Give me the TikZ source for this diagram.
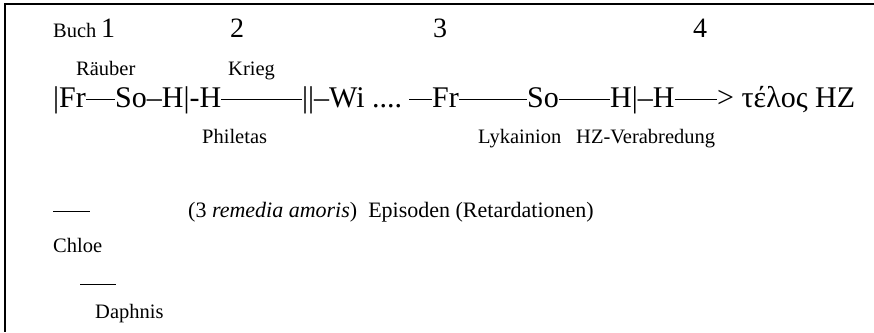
\documentclass[tikz,border=0pt]{standalone}
\usepackage{fontspec}
\setmainfont{Liberation Serif}
\begin{document}
\begin{tikzpicture}[x=1pt,y=-1pt,
  lbl/.style={inner sep=0pt,anchor=base west,font=\fontsize{20.5}{24}\selectfont},
  num/.style={inner sep=0pt,anchor=base west,font=\fontsize{28}{32}\selectfont},
  seq/.style={inner sep=0pt,anchor=base west,font=\fontsize{30}{34}\selectfont},
  dashline/.style={line width=1pt},
  frame/.style={line width=1.6pt}]
\useasboundingbox (0,0) rectangle (874,332);
% frame
\coordinate (tl) at (5,4);
\coordinate (tr) at (874,4);
\coordinate (bl) at (5,332);
\draw[frame] (tr) -- (tl) -- (bl);
% row 1
\node[lbl] (buch) at (53,37) {Buch};
\node[num] (n1) at (101,37) {1};
\node[num] (n2) at (230,37) {2};
\node[num] (n3) at (433,37) {3};
\node[num] (n4) at (693,37) {4};
% row 2
\node[lbl] (raeuber) at (76,75) {Räuber};
\node[lbl] (krieg) at (228,75) {Krieg};
% main sequence
\node[seq] (m1) at (53,107) {|Fr};
\node[seq] (m2) at (115,107) {So–H|-H};
\node[seq] (m3) at (302,107) {||–Wi ....};
\node[seq] (m4) at (432,107) {Fr};
\node[seq] (m5) at (527,107) {So};
\node[seq] (m6) at (610,107) {H|–H};
\node[seq] (m7) at (717,107) {> τέλος HZ};
\draw[dashline] ([yshift=7.5pt]m1.base east) -- ([yshift=7.5pt]m2.base west);
\draw[dashline] ([yshift=7.5pt]m2.base east) -- ([yshift=7.5pt]m3.base west);
\draw[dashline] ([xshift=7pt,yshift=7.5pt]m3.base east) -- ([yshift=7.5pt]m4.base west);
\draw[dashline] ([yshift=7.5pt]m4.base east) -- ([yshift=7.5pt]m5.base west);
\draw[dashline] ([yshift=7.5pt]m5.base east) -- ([yshift=7.5pt]m6.base west);
\draw[dashline] ([yshift=7.5pt]m6.base east) -- ([yshift=7.5pt]m7.base west);
% row below
\node[lbl] (phil) at (202,143) {Philetas};
\node[lbl] (lyk) at (478,143) {Lykainion};
\node[lbl] (hzv) at (576,143) {HZ-Verabredung};
% lower part
\coordinate (d1a) at (53,211);
\coordinate (d1b) at (90,211);
\draw[dashline] (d1a) -- (d1b);
\node[lbl,font=\fontsize{22}{26}\selectfont] (epi) at (188,217) {(3 \textit{remedia amoris})\ \ Episoden (Retardationen)};
\node[lbl] (chloe) at (53,252) {Chloe};
\coordinate (d2a) at (80,284);
\coordinate (d2b) at (116,284);
\draw[dashline] (d2a) -- (d2b);
\node[lbl] (daph) at (95,318) {Daphnis};
\end{tikzpicture}
\end{document}
